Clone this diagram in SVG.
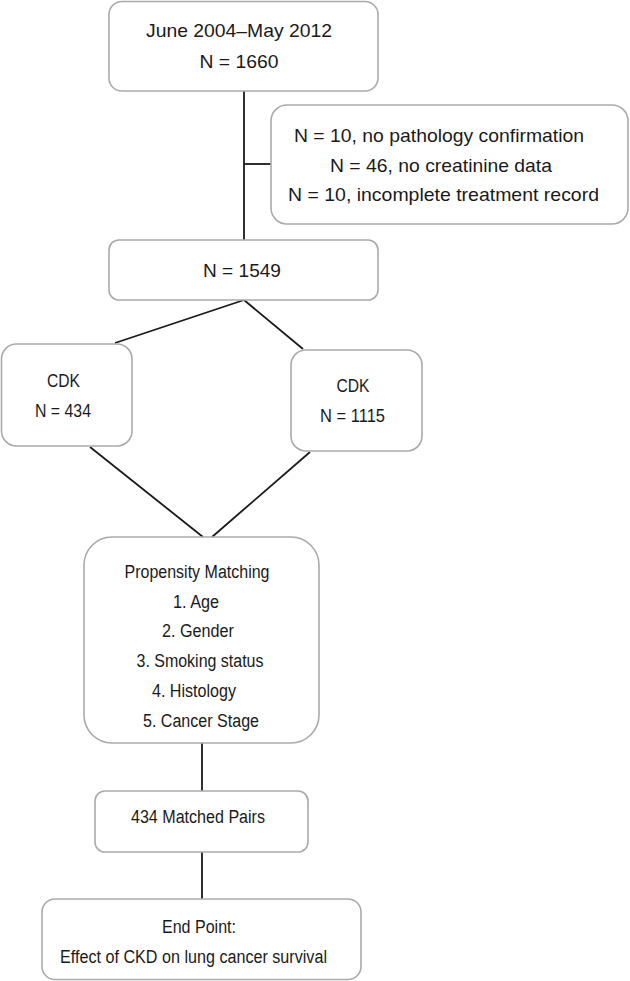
<svg xmlns="http://www.w3.org/2000/svg" width="630" height="981" viewBox="0 0 630 981">
<style>
.box{fill:#fff;stroke:#aaaaaa;stroke-width:1.6}
.t{font-family:"Liberation Sans",Arial,sans-serif;fill:#1a1a1a;text-anchor:middle}
.a{font-size:19px}
.b{font-size:18px}
.c line,.c polyline{stroke:#1a1a1a;stroke-width:1.8;fill:none}
</style>
<rect width="630" height="981" fill="#fff"/>
<g class="c" id="connectors">
<line x1="244" y1="91" x2="244" y2="240"/>
<line x1="244" y1="164" x2="271" y2="164"/>
<line x1="244" y1="300" x2="115" y2="343"/>
<line x1="244" y1="300" x2="303" y2="349"/>
<line x1="90" y1="447" x2="203" y2="537"/>
<line x1="310" y1="452" x2="212" y2="537"/>
<line x1="202" y1="743" x2="202" y2="791"/>
<line x1="202" y1="852" x2="202" y2="899"/>
</g>
<g id="start">
<rect class="box" x="109" y="1.5" width="269" height="89.5" rx="13"/>
<text class="t a" x="239" y="37" textLength="186" lengthAdjust="spacingAndGlyphs">June 2004–May 2012</text>
<text class="t a" x="239" y="68" textLength="79" lengthAdjust="spacingAndGlyphs">N = 1660</text>
</g>
<g id="excluded">
<rect class="box" x="271" y="105" width="357" height="119" rx="16"/>
<text class="t a" x="439" y="142" textLength="290" lengthAdjust="spacingAndGlyphs">N = 10, no pathology confirmation</text>
<text class="t a" x="441" y="172" textLength="222" lengthAdjust="spacingAndGlyphs">N = 46, no creatinine data</text>
<text class="t a" x="443.5" y="201" textLength="311" lengthAdjust="spacingAndGlyphs">N = 10, incomplete treatment record</text>
</g>
<g id="n1549">
<rect class="box" x="109" y="240" width="269" height="60" rx="10"/>
<text class="t a" x="242" y="277" textLength="78" lengthAdjust="spacingAndGlyphs">N = 1549</text>
</g>
<g id="cdk434">
<rect class="box" x="1.5" y="344" width="130.5" height="102" rx="15"/>
<text class="t b" x="63.5" y="387" textLength="33" lengthAdjust="spacingAndGlyphs">CDK</text>
<text class="t b" x="63" y="417" textLength="56" lengthAdjust="spacingAndGlyphs">N = 434</text>
</g>
<g id="cdk1115">
<rect class="box" x="291" y="350" width="131" height="101" rx="15"/>
<text class="t b" x="353" y="392" textLength="33" lengthAdjust="spacingAndGlyphs">CDK</text>
<text class="t b" x="352.5" y="422" textLength="65" lengthAdjust="spacingAndGlyphs">N = 1115</text>
</g>
<g id="matching">
<rect class="box" x="84" y="537" width="235" height="206" rx="28"/>
<text class="t b" x="197" y="578" textLength="145" lengthAdjust="spacingAndGlyphs">Propensity Matching</text>
<text class="t b" x="196" y="608" textLength="46" lengthAdjust="spacingAndGlyphs">1. Age</text>
<text class="t b" x="198" y="637" textLength="72" lengthAdjust="spacingAndGlyphs">2. Gender</text>
<text class="t b" x="200" y="667" textLength="127" lengthAdjust="spacingAndGlyphs">3. Smoking status</text>
<text class="t b" x="194" y="697" textLength="84" lengthAdjust="spacingAndGlyphs">4. Histology</text>
<text class="t b" x="201" y="727" textLength="116" lengthAdjust="spacingAndGlyphs">5. Cancer Stage</text>
</g>
<g id="pairs">
<rect class="box" x="95" y="791" width="213" height="61" rx="10"/>
<text class="t b" x="198" y="823" textLength="134" lengthAdjust="spacingAndGlyphs">434 Matched Pairs</text>
</g>
<g id="endpoint">
<rect class="box" x="42" y="899" width="319" height="80.5" rx="13"/>
<text class="t b" x="199" y="933" textLength="74" lengthAdjust="spacingAndGlyphs">End Point:</text>
<text class="t b" x="193.5" y="963" textLength="267" lengthAdjust="spacingAndGlyphs">Effect of CKD on lung cancer survival</text>
</g>
</svg>
